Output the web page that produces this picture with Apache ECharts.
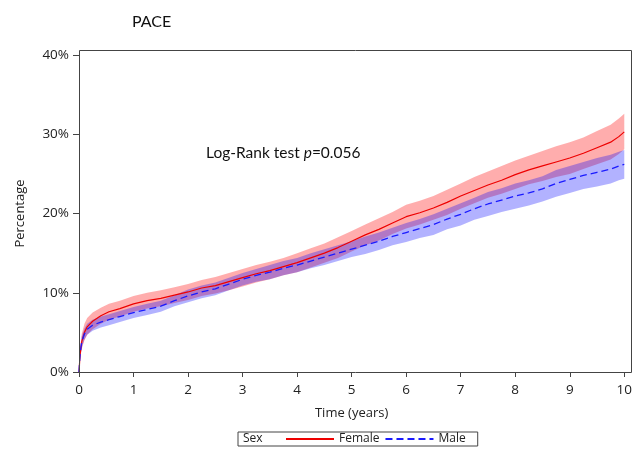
<!DOCTYPE html>
<html>
<head>
<meta charset="utf-8">
<script src="https://cdn.jsdelivr.net/npm/echarts@6/dist/echarts.min.js"></script>
<style>
html,body{margin:0;padding:0;background:#fff;}
#chart{width:635px;height:450px;}
</style>
</head>
<body>
<div id="chart"></div>
<script>
// Time in years
const time = [0, 0.02, 0.05, 0.1, 0.15, 0.25, 0.4, 0.55, 0.75, 1.0, 1.25, 1.5, 1.75, 2.0, 2.25, 2.5, 2.75, 3.0, 3.25, 3.5, 3.75, 4.0, 4.25, 4.5, 4.75, 5.0, 5.25, 5.5, 5.75, 6.0, 6.25, 6.5, 6.75, 7.0, 7.25, 7.5, 7.75, 8.0, 8.25, 8.5, 8.75, 9.0, 9.25, 9.5, 9.75, 9.9, 10.0];
// Cumulative percentage, Female
const female = [0, 2.2, 3.8, 5.0, 5.7, 6.4, 7.1, 7.6, 8.0, 8.6, 9.0, 9.3, 9.7, 10.1, 10.6, 10.9, 11.4, 11.9, 12.4, 12.8, 13.3, 13.8, 14.4, 15.0, 15.7, 16.5, 17.3, 18.0, 18.8, 19.6, 20.1, 20.7, 21.4, 22.2, 22.9, 23.6, 24.2, 24.9, 25.5, 26.0, 26.5, 27.0, 27.6, 28.3, 29.0, 29.7, 30.3];
const femaleUpper = [0, 2.9, 4.8, 6.1, 6.8, 7.5, 8.1, 8.6, 9.0, 9.6, 10.0, 10.3, 10.7, 11.1, 11.6, 12.0, 12.5, 13.0, 13.5, 13.9, 14.4, 15.0, 15.6, 16.2, 17.0, 17.8, 18.6, 19.4, 20.2, 21.1, 21.6, 22.2, 23.0, 23.8, 24.6, 25.3, 26.0, 26.7, 27.3, 27.9, 28.5, 29.0, 29.6, 30.4, 31.2, 32.0, 32.6];
const femaleLower = [0, 1.6, 2.9, 4.0, 4.7, 5.4, 6.1, 6.6, 7.0, 7.6, 8.0, 8.3, 8.7, 9.1, 9.6, 9.9, 10.3, 10.8, 11.3, 11.7, 12.2, 12.6, 13.2, 13.8, 14.4, 15.2, 16.0, 16.6, 17.4, 18.1, 18.6, 19.2, 19.8, 20.6, 21.3, 22.0, 22.5, 23.1, 23.7, 24.1, 24.6, 25.0, 25.6, 26.2, 26.8, 27.5, 28.1];
// Cumulative percentage, Male
const male = [0, 2.3, 3.8, 4.8, 5.4, 5.9, 6.3, 6.6, 7.0, 7.5, 7.9, 8.3, 9.0, 9.6, 10.1, 10.5, 11.1, 11.7, 12.2, 12.6, 13.1, 13.5, 14.0, 14.5, 15.0, 15.5, 16.0, 16.5, 17.1, 17.6, 18.1, 18.6, 19.3, 19.9, 20.6, 21.2, 21.7, 22.2, 22.6, 23.1, 23.8, 24.3, 24.8, 25.2, 25.6, 26.0, 26.2];
const maleUpper = [0, 2.9, 4.5, 5.5, 6.1, 6.6, 7.0, 7.3, 7.7, 8.2, 8.6, 9.0, 9.7, 10.4, 10.9, 11.3, 11.9, 12.5, 13.0, 13.5, 14.0, 14.4, 15.0, 15.5, 16.0, 16.5, 17.1, 17.6, 18.2, 18.8, 19.3, 19.9, 20.6, 21.3, 22.0, 22.7, 23.2, 23.8, 24.2, 24.7, 25.5, 26.0, 26.5, 27.0, 27.4, 27.8, 28.0];
const maleLower = [0, 1.7, 3.1, 4.1, 4.7, 5.2, 5.6, 5.9, 6.3, 6.8, 7.2, 7.6, 8.3, 8.8, 9.3, 9.7, 10.3, 10.9, 11.4, 11.7, 12.2, 12.6, 13.1, 13.5, 14.0, 14.5, 14.9, 15.4, 16.0, 16.4, 16.9, 17.3, 18.0, 18.5, 19.2, 19.7, 20.2, 20.6, 21.0, 21.5, 22.1, 22.6, 23.1, 23.4, 23.8, 24.2, 24.4];

const seriesNames = ['Female', 'Male'];
const legendTitle = 'Sex';
const chartTitle = 'PACE';
const xAxisName = 'Time (years)';
const yAxisName = 'Percentage';

function bandRenderer(lower, upper, color) {
  return function (params, api) {
    if (params.dataIndex !== 0) return null;
    const pts = [];
    for (let i = 0; i < time.length; i++) pts.push(api.coord([time[i], upper[i]]));
    for (let i = time.length - 1; i >= 0; i--) pts.push(api.coord([time[i], lower[i]]));
    return { type: 'polygon', shape: { points: pts }, style: { fill: color } };
  };
}

const chart = echarts.init(document.getElementById('chart'), null, { renderer: 'canvas' });
const axisFont = 'Open Sans';
chart.setOption({
  animation: false,
  backgroundColor: '#fff',
  title: {
    text: chartTitle, left: 127, top: 9,
    textStyle: { fontFamily: 'Lato', fontSize: 16, fontWeight: 'normal', color: '#111' }
  },
  grid: { left: 79, right: 6, top: 55, bottom: 78, containLabel: false },
  xAxis: {
    type: 'value', min: 0, max: 10, interval: 1,
    name: xAxisName, nameLocation: 'middle', nameGap: 35,
    nameTextStyle: { fontFamily: axisFont, fontSize: 13, color: '#222' },
    axisLine: { show: false },
    axisTick: { show: true, length: 5, lineStyle: { color: '#444' } },
    axisLabel: { fontFamily: axisFont, fontSize: 13.5, color: '#222', margin: 11 },
    splitLine: { show: false }
  },
  yAxis: {
    type: 'value', min: 0, max: 40, interval: 10,
    name: yAxisName, nameLocation: 'middle', nameGap: 52,
    nameTextStyle: { fontFamily: axisFont, fontSize: 13, color: '#222' },
    axisLine: { show: false },
    axisTick: { show: true, length: 6, lineStyle: { color: '#444' } },
    axisLabel: { fontFamily: axisFont, fontSize: 13.5, color: '#222', margin: 10, formatter: '{value}%' },
    splitLine: { show: false }
  },
  legend: {
    data: seriesNames,
    left: 238, top: 432,
    padding: [1, 12, 1, 47],
    itemWidth: 48, itemHeight: 14, itemGap: 5,
    borderColor: '#444', borderWidth: 1,
    itemStyle: { opacity: 0 },
    textStyle: { fontFamily: axisFont, fontSize: 12, color: '#222' }
  },
  graphic: [
    {
      type: 'rect', silent: true, z: 100,
      shape: { x: 79.5, y: 50.5, width: 552, height: 322 },
      style: { fill: 'none', stroke: '#444', lineWidth: 1 }
    },
    {
      type: 'text', left: 243, top: 433, silent: true,
      style: { text: legendTitle, font: '12px "Open Sans"', fill: '#222' }
    },
    {
      type: 'text', left: 206, top: 145, silent: true,
      style: {
        text: 'Log-Rank test {i|p}=0.056',
        font: '15.5px Lato', fill: '#111',
        rich: { i: { fontFamily: 'Lato', fontSize: 15.5, fontStyle: 'italic', fill: '#111' } }
      }
    }
  ],
  series: [
    {
      name: 'Female CI', type: 'custom', silent: true, z: 1,
      renderItem: bandRenderer(femaleLower, femaleUpper, 'rgba(255,0,0,0.32)'),
      data: time.map((t, i) => [t, femaleLower[i], femaleUpper[i]]),
      encode: { x: 0, y: [1, 2] }
    },
    {
      name: 'Male CI', type: 'custom', silent: true, z: 2,
      renderItem: bandRenderer(maleLower, maleUpper, 'rgba(0,0,255,0.30)'),
      data: time.map((t, i) => [t, maleLower[i], maleUpper[i]]),
      encode: { x: 0, y: [1, 2] }
    },
    {
      name: seriesNames[0], type: 'line', z: 3,
      data: time.map((t, i) => [t, female[i]]),
      symbol: 'none', showSymbol: false,
      itemStyle: { color: '#ee0000' },
      lineStyle: { color: '#ee0000', width: 1.2 }
    },
    {
      name: seriesNames[1], type: 'line', z: 4,
      data: time.map((t, i) => [t, male[i]]),
      symbol: 'none', showSymbol: false,
      itemStyle: { color: '#1a1aff' },
      lineStyle: { color: '#1a1aff', width: 1.3, type: [7, 4] }
    }
  ]
});
</script>
</body>
</html>
